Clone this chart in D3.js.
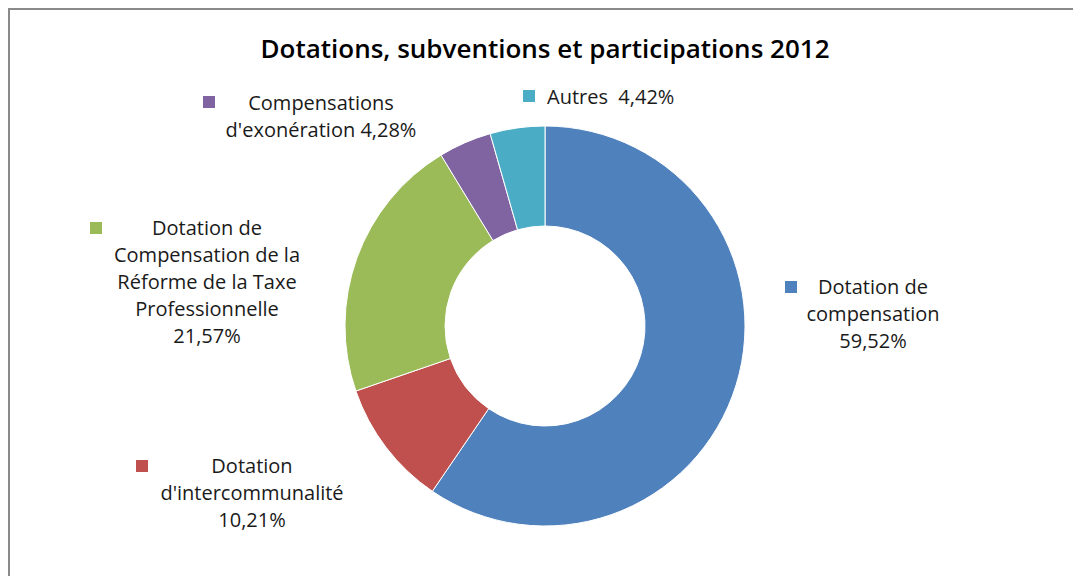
<!DOCTYPE html>
<html>
<head>
<meta charset="utf-8">
<script src="https://cdn.jsdelivr.net/npm/d3@7"></script>
<style>
  body { margin: 0; background: #fff; }
  svg text { font-family: "Open Sans", Lato, sans-serif; fill: #1a1a1a; font-variant-ligatures: none; }
</style>
</head>
<body>
<div id="chart"></div>
<script>
// données
const categories = [
    "Dotation de compensation",
    "Dotation d'intercommunalité",
    "Dotation de Compensation de la Réforme de la Taxe Professionnelle",
    "Compensations d'exonération",
    "Autres"
];
const values = [59.52, 10.21, 21.57, 4.28, 4.42];
const pctLabels = ["59,52%", "10,21%", "21,57%", "4,28%", "4,42%"];
const colors = ["#4F81BD", "#C0504D", "#9BBB59", "#8064A2", "#4BACC6"];

// lignes des étiquettes (retour à la ligne comme dans Excel)
const labelLines = [
    ["Dotation de", "compensation", "59,52%"],
    ["Dotation", "d'intercommunalité", "10,21%"],
    ["Dotation de", "Compensation de la", "Réforme de la Taxe", "Professionnelle", "21,57%"],
    ["Compensations", "d'exonération 4,28%"],
    ["Autres\u00a0 4,42%"]
];

const width = 1073, height = 576;
const cx = 545, cy = 326, outerR = 200, innerR = 100;
const lineH = 27;

// position de l'étiquette : centre du texte (x), première ligne (y), carré (sx, sy)
const labelPos = [
    { x: 873, y: 287, sx: 785, sy: 281, anchor: "middle" },
    { x: 252, y: 466, sx: 136, sy: 460, anchor: "middle" },
    { x: 207, y: 228, sx: 90,  sy: 222, anchor: "middle" },
    { x: 321, y: 103, sx: 203, sy: 96,  anchor: "middle" },
    { x: 547, y: 97,  sx: 523, sy: 90,  anchor: "start" }
];

const svg = d3.select("#chart").append("svg")
    .attr("width", width)
    .attr("height", height);

// cadre
svg.append("rect")
    .attr("x", 9).attr("y", 9)
    .attr("width", width + 20).attr("height", height + 20)
    .attr("fill", "none")
    .attr("stroke", "#8a8a8a")
    .attr("stroke-width", 2);

// titre
svg.append("text")
    .attr("x", cx)
    .attr("y", 58)
    .attr("text-anchor", "middle")
    .style("font-size", "26px")
    .style("font-weight", "600")
    .style("fill", "#000")
    .text("Dotations, subventions et participations 2012");

const pie = d3.pie().sort(null).value(d => d)(values);
const arc = d3.arc().innerRadius(innerR).outerRadius(outerR);

const g = svg.append("g").attr("transform", `translate(${cx},${cy})`);

g.selectAll("path")
    .data(pie)
    .enter()
    .append("path")
    .attr("d", arc)
    .attr("fill", (d, i) => colors[i])
    .attr("stroke", "#fff")
    .attr("stroke-width", 1);

// étiquettes
const labels = svg.append("g");
categories.forEach((c, i) => {
    const p = labelPos[i];
    labels.append("rect")
        .attr("x", p.sx).attr("y", p.sy)
        .attr("width", 12).attr("height", 12)
        .attr("fill", colors[i]);

    const t = labels.append("text")
        .attr("text-anchor", p.anchor)
        .style("font-size", "20px");
    labelLines[i].forEach((line, j) => {
        t.append("tspan")
            .attr("x", p.x)
            .attr("y", p.y + j * lineH)
            .attr("dy", "0.35em")
            .text(line);
    });
});
</script>
</body>
</html>
